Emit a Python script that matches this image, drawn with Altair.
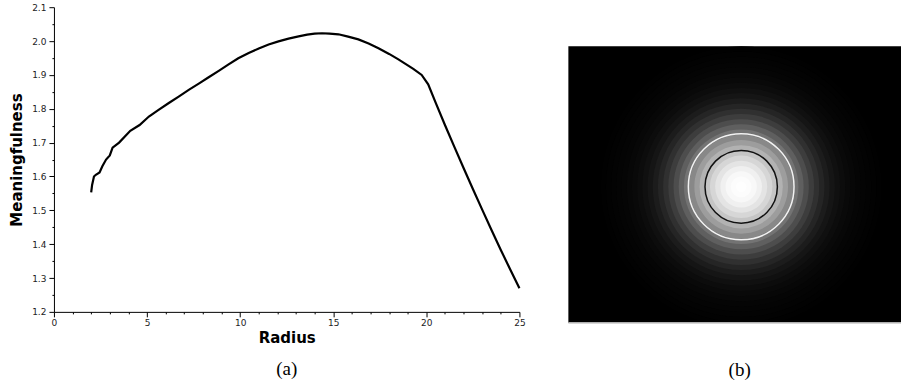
import altair as alt
import pandas as pd

# ---- panel (a): meaningfulness vs radius ----
radius = [2.0, 2.05, 2.15, 2.25, 2.45, 2.6, 2.8, 3.0, 3.15, 3.5,
          4.1, 4.6, 5.1, 5.6, 6.17, 6.7, 7.24, 7.8, 8.31, 8.85,
          9.38, 9.9, 10.46, 11.0, 11.53, 12.06, 12.6, 13.14, 13.6, 14.0,
          14.4, 14.8, 15.28, 15.8, 16.35, 16.9, 17.43, 18.0, 18.5, 18.9,
          19.3, 19.75, 20.1, 20.5, 21.0, 21.5, 22.0, 22.5, 23.0, 23.5,
          24.0, 24.5, 25.0]
meaning = [1.553, 1.575, 1.600, 1.605, 1.612, 1.630, 1.650, 1.662, 1.685, 1.700,
           1.735, 1.752, 1.777, 1.796, 1.817, 1.836, 1.856, 1.875, 1.893, 1.912,
           1.931, 1.949, 1.965, 1.978, 1.990, 1.999, 2.007, 2.014, 2.019, 2.022,
           2.023, 2.022, 2.020, 2.013, 2.005, 1.993, 1.979, 1.962, 1.946, 1.932,
           1.918, 1.900, 1.872, 1.818, 1.752, 1.688, 1.625, 1.563, 1.502, 1.442,
           1.383, 1.326, 1.270]

x_ticks = list(range(0, 26))
y_ticks = [1.2, 1.25, 1.3, 1.35, 1.4, 1.45, 1.5, 1.55, 1.6, 1.65, 1.7, 1.75,
           1.8, 1.85, 1.9, 1.95, 2.0, 2.05, 2.1]

# ---- panel (b): blob image with two contours ----
img_cols = 64
img_rows = 53
blob_cx = 33.25
blob_cy = 26.94
ring_radius = [27, 26, 25, 24, 23, 22, 21, 20, 19, 18, 17, 16, 15, 14,
               13, 12, 11, 10, 9, 8, 7, 6, 5, 4, 3, 2, 1]
ring_gray = [1, 2, 3, 4, 5, 7, 9, 12, 16, 21, 28, 37, 48, 61,
             77, 95, 115, 136, 157, 178, 197, 214, 228, 240, 248, 252, 254]
contour_radius = [10.15, 6.95]
contour_color = ["#f2f2f2", "#111111"]

df_line = pd.DataFrame({"radius": radius, "meaning": meaning})

left = alt.Chart(df_line).mark_line(color="black", strokeWidth=2.2).encode(
    x=alt.X("radius:Q",
            scale=alt.Scale(domain=[0, 25], nice=False, zero=False),
            axis=alt.Axis(values=x_ticks, format="d",
                          labelExpr="datum.value % 5 === 0 ? datum.label : ''",
                          tickSize={"condition": {"test": "datum.value % 5 === 0", "value": 5}, "value": 2},
                          labelFlush=False, labelOverlap=False, labelPadding=2,
                          title="Radius", titlePadding=3)),
    y=alt.Y("meaning:Q",
            scale=alt.Scale(domain=[1.2, 2.1], nice=False, zero=False),
            axis=alt.Axis(values=y_ticks, format=".1f",
                          labelExpr="abs(datum.value*10 - round(datum.value*10)) < 0.001 ? datum.label : ''",
                          tickSize={"condition": {"test": "abs(datum.value*10 - round(datum.value*10)) < 0.001", "value": 5}, "value": 2},
                          labelFlush=False, labelOverlap=False, labelPadding=3,
                          title="Meaningfulness", titlePadding=7)),
).properties(
    width=466, height=305,
    title=alt.TitleParams("(a)", orient="bottom", frame="group", offset=14,
                          font="Liberation Serif", fontSize=19, fontWeight="normal",
                          color="black"),
)

xs = alt.Scale(domain=[0, img_cols], nice=False, zero=False)
ys = alt.Scale(domain=[0, img_rows], range=[39, 316], nice=False, zero=False)

bg = pd.DataFrame({"x0": [0], "x1": [img_cols], "y0": [0], "y1": [img_rows]})
rect = alt.Chart(bg).mark_rect(color="black").encode(
    x=alt.X("x0:Q", scale=xs, axis=None), x2="x1",
    y=alt.Y("y0:Q", scale=ys, axis=None), y2="y1",
)

rdf = pd.DataFrame({
    "cx": [blob_cx] * len(ring_radius),
    "cy": [blob_cy] * len(ring_radius),
    "r": ring_radius,
    "col": ["rgb(%d,%d,%d)" % (g, g, g) for g in ring_gray],
})
size_scale = alt.Scale(type="pow", exponent=2, domain=[0, 30], range=[0, 312.6 ** 2])
rings = alt.Chart(rdf).mark_circle(opacity=1, clip=True).encode(
    x=alt.X("cx:Q", scale=xs, axis=None),
    y=alt.Y("cy:Q", scale=ys, axis=None),
    size=alt.Size("r:Q", scale=size_scale, legend=None),
    color=alt.Color("col:N", scale=None),
    order=alt.Order("r:Q", sort="descending"),
)

cdf = pd.DataFrame({
    "cx": [blob_cx] * 2, "cy": [blob_cy] * 2,
    "r": contour_radius, "col": contour_color,
})
contours = alt.Chart(cdf).mark_point(filled=False, shape="circle", opacity=1, strokeWidth=1.5).encode(
    x=alt.X("cx:Q", scale=xs, axis=None),
    y=alt.Y("cy:Q", scale=ys, axis=None),
    size=alt.Size("r:Q", scale=size_scale, legend=None),
    stroke=alt.Stroke("col:N", scale=None),
)

edge = pd.DataFrame({"x0": [0], "x1": [img_cols], "y": [img_rows]})
rule = alt.Chart(edge).mark_rule(color="#b0b0b0", strokeWidth=1.5).encode(
    x=alt.X("x0:Q", scale=xs, axis=None), x2="x1",
    y=alt.Y("y:Q", scale=ys, axis=None),
)

right = alt.layer(rect, rings, contours, rule).properties(
    width=333, height=316,
    title=alt.TitleParams("(b)", orient="bottom", frame="group", offset=37, dx=5,
                          font="Liberation Serif", fontSize=19, fontWeight="normal",
                          color="black"),
)

chart = alt.hconcat(left, right, spacing=42).properties(
    padding={"left": 9, "top": 3, "right": 0, "bottom": 0},
    background="white",
).configure_view(strokeWidth=0).configure_axis(
    grid=False,
    labelFont="DejaVu Sans", labelFontSize=9, labelColor="#222222",
    domainColor="black", domainWidth=1, tickColor="black", tickWidth=1,
    titleFont="DejaVu Sans", titleFontSize=15, titleFontWeight="bold",
    titleColor="black",
)

chart.save("out.html", embed_options={"renderer": "svg", "actions": False})
